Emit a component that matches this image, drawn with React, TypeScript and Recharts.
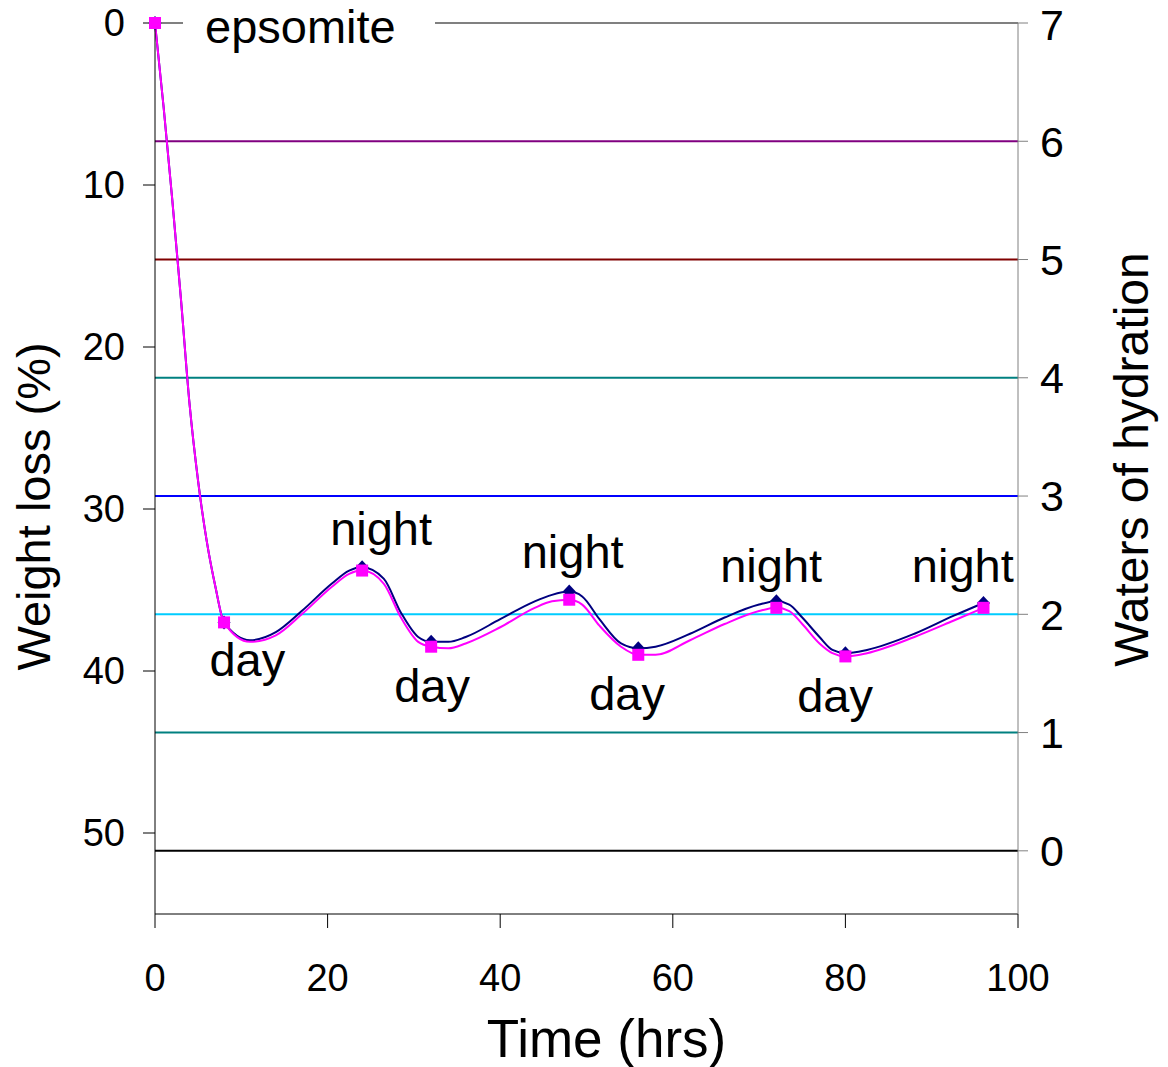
import React from 'react'
import {
  LineChart,
  Line,
  XAxis,
  YAxis,
  ReferenceLine,
  ReferenceDot,
} from 'recharts'

// sample times (hrs)
const hours = [
  0, 1, 2, 3, 4, 5, 6, 7, 8, 11, 14, 17, 20.5, 22.5, 24, 26.5, 28.5, 30.5, 32, 34, 36, 40, 44, 46, 48,
  49.5, 51.5, 54, 56, 58, 62, 66, 70, 72, 73.5, 75, 77, 78.5, 80, 82.5, 88, 92.5, 96,
]
// weight loss (%) – navy / diamonds
const lossNavy = [
  0, 5.2, 10.9, 17, 23.5, 28.3, 32, 34.8, 37.0, 38.1, 37.6, 36.3, 34.6, 33.8, 33.6, 34.3, 36.4, 37.9, 38.2,
  38.2, 37.9, 36.8, 35.7, 35.3, 35.1, 35.4, 36.8, 38.3, 38.6, 38.5, 37.7, 36.7, 35.9, 35.7, 35.9, 36.7, 37.9,
  38.7, 38.9, 38.7, 37.7, 36.6, 35.8,
]
// weight loss (%) – magenta / squares
const lossMagenta = [
  0, 5.2, 10.9, 17, 23.5, 28.3, 32, 34.8, 37.0, 38.2, 37.8, 36.5, 34.8, 34.0, 33.8, 34.6, 36.7, 38.2, 38.5,
  38.6, 38.3, 37.3, 36.1, 35.7, 35.6, 35.9, 37.2, 38.5, 39.0, 39.0, 38.1, 37.1, 36.3, 36.1, 36.3, 37.1, 38.3,
  38.9, 39.1, 38.9, 37.9, 36.9, 36.1,
]
// times that carry a marker
const markedHours = [0, 8, 24, 32, 48, 56, 72, 80, 96]

// day / night notes: centre of text in (hrs, %)
const noteHours = [10.7, 26.2, 32.1, 48.4, 54.7, 71.4, 78.8, 93.6]
const noteLoss = [39.3, 31.2, 40.9, 32.6, 41.4, 33.5, 41.5, 33.5]
const noteText = ['day', 'night', 'day', 'night', 'day', 'night', 'day', 'night']

// waters of hydration lines
const waters = [6, 5, 4, 3, 2, 1, 0]
const waterColors = ['#800080', '#800000', '#008080', '#0000FF', '#00CCFF', '#008080', '#000000']

const xTicks = [0, 20, 40, 60, 80, 100]
const lossTicks = [0, 10, 20, 30, 40, 50]
const waterTicks = [0, 1, 2, 3, 4, 5, 6, 7]
const LOSS_MAX = 55
const LOSS_PER_WATER = 7.3 // % per molecule of water

const data = hours.map((t, i) => ({ t, navy: lossNavy[i], magenta: lossMagenta[i] }))

const FONT = '"Liberation Sans", Arial, sans-serif'

function Square({ cx, cy, payload }: any) {
  if (!markedHours.includes(payload.t)) return null
  return <rect x={cx - 6} y={cy - 6} width={12} height={12} fill="#FF00FF" />
}

function Diamond({ cx, cy, payload }: any) {
  if (!markedHours.includes(payload.t)) return null
  return (
    <path d={`M${cx},${cy - 7} L${cx + 6.5},${cy} L${cx},${cy + 7} L${cx - 6.5},${cy} Z`} fill="#000080" />
  )
}

function LeftTitle({ viewBox }: any) {
  const x = viewBox.x + 50
  const y = viewBox.y + viewBox.height / 2 + 38
  return (
    <text x={x} y={y} transform={`rotate(-90 ${x} ${y})`} textAnchor="middle" fontSize={47} fill="#000">
      Weight loss (%)
    </text>
  )
}

function RightTitle({ viewBox }: any) {
  const x = 1148
  const y = viewBox.y + viewBox.height / 2 - 9
  return (
    <text x={x} y={y} transform={`rotate(-90 ${x} ${y})`} textAnchor="middle" fontSize={48} fill="#000">
      Waters of hydration
    </text>
  )
}

export default function App() {
  return (
    <div style={{ position: 'absolute', left: 0, top: 0, width: 1168, height: 1067, fontFamily: FONT, background: '#fff' }}>
      <LineChart
        width={1168}
        height={1067}
        data={data}
        margin={{ top: 23, right: 0, bottom: 0, left: 0 }}
        style={{ fontFamily: FONT }}
      >
        <XAxis
          dataKey="t"
          type="number"
          domain={[0, 100]}
          ticks={xTicks}
          height={153}
          tickSize={14}
          tickMargin={36}
          stroke="#000"
          tick={{ fontSize: 38, fill: '#000' }}
          label={{ value: 'Time (hrs)', position: 'insideBottom', offset: 10, dx: 20, fontSize: 53, fill: '#000' }}
        />
        <YAxis
          yAxisId="left"
          orientation="left"
          reversed
          domain={[0, LOSS_MAX]}
          ticks={lossTicks}
          width={155}
          tickSize={12}
          tickMargin={18}
          stroke="#000"
          tick={{ fontSize: 38, fill: '#000' }}
          label={<LeftTitle />}
        />
        <YAxis
          yAxisId="right"
          orientation="right"
          domain={[7 - LOSS_MAX / LOSS_PER_WATER, 7]}
          ticks={waterTicks}
          allowDataOverflow
          width={150}
          tickSize={10}
          tickMargin={12}
          stroke="#808080"
          tick={{ fontSize: 43, fill: '#000' }}
          label={<RightTitle />}
        />
        <ReferenceLine yAxisId="left" y={0} stroke="#808080" strokeWidth={2} />
        {waters.map((w, i) => (
          <ReferenceLine key={w} yAxisId="right" y={w} stroke={waterColors[i]} strokeWidth={2} />
        ))}
        <Line
          yAxisId="left"
          dataKey="navy"
          type="monotone"
          stroke="#000080"
          strokeWidth={2}
          dot={<Diamond />}
          activeDot={false}
          isAnimationActive={false}
        />
        <Line
          yAxisId="left"
          dataKey="magenta"
          type="monotone"
          stroke="#FF00FF"
          strokeWidth={2}
          dot={<Square />}
          activeDot={false}
          isAnimationActive={false}
        />
        {noteText.map((txt, i) => (
          <ReferenceDot
            key={i}
            yAxisId="left"
            x={noteHours[i]}
            y={noteLoss[i]}
            r={0}
            stroke="none"
            fill="none"
            ifOverflow="visible"
            label={{ value: txt, position: 'center', fontSize: 47, fill: '#000' }}
          />
        ))}
      </LineChart>
      <div
        style={{
          position: 'absolute',
          left: 183,
          top: 0,
          width: 252,
          height: 50,
          background: '#fff',
          fontSize: 47,
          lineHeight: '54px',
          paddingLeft: 22,
          boxSizing: 'border-box',
          color: '#000',
        }}
      >
        epsomite
      </div>
    </div>
  )
}
